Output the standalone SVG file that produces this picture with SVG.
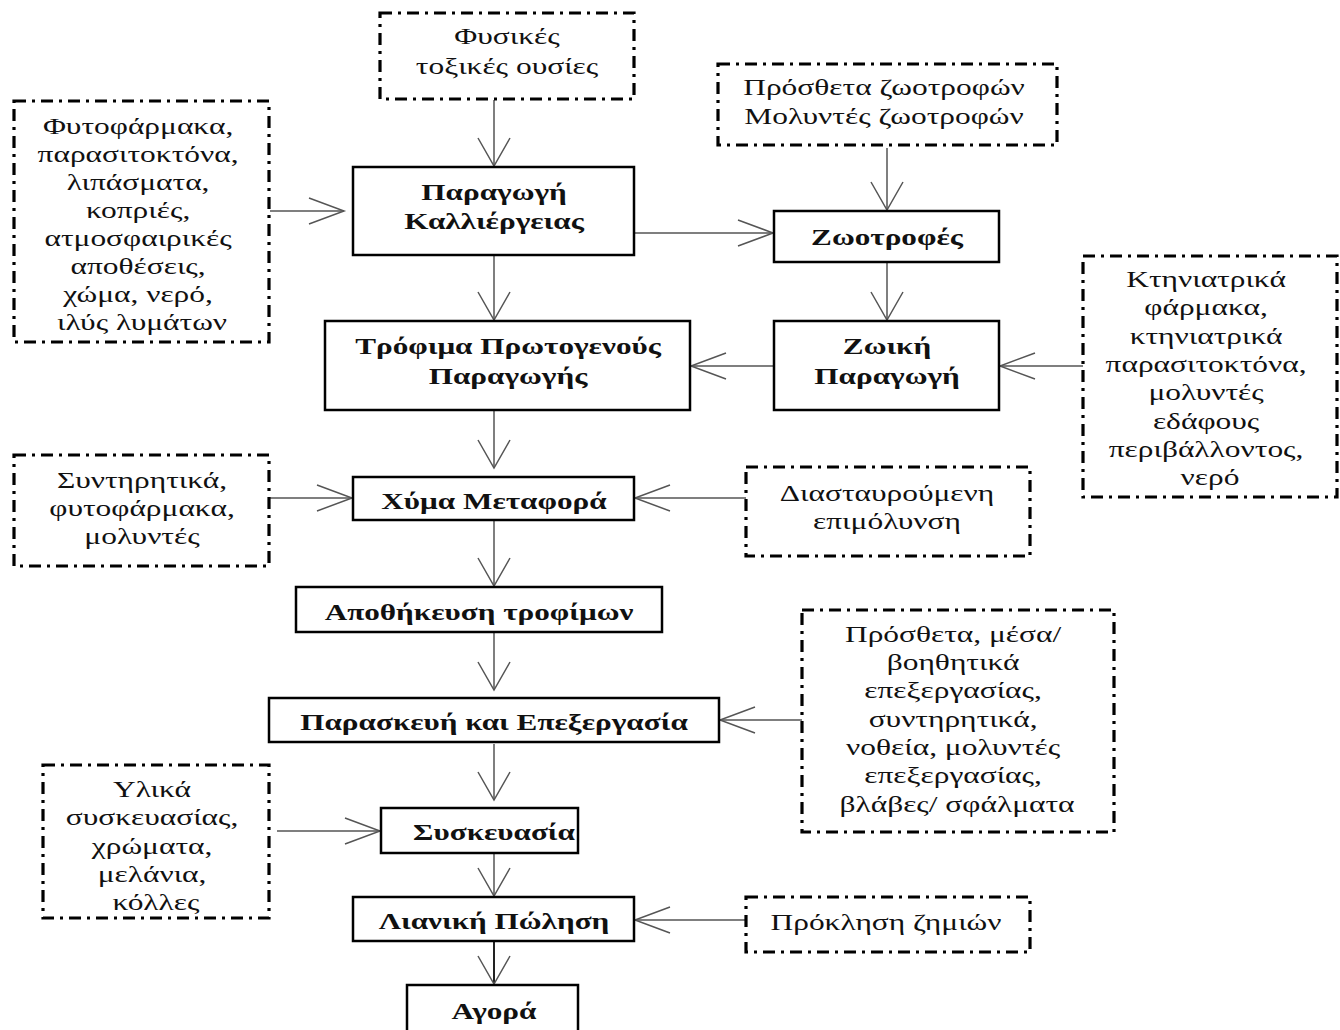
<svg xmlns="http://www.w3.org/2000/svg" width="1340" height="1030" viewBox="0 0 1340 1030">
  <style>
    .proc { fill: #fff; stroke: #000; stroke-width: 2.5; }
    .src { fill: #fff; stroke: #000; stroke-width: 3.2; stroke-dasharray: 12 6 3 6; }
    .t { font-family: "Liberation Serif", "Times New Roman", serif; font-size: 24px; fill: #111; text-anchor: middle; }
    .b { font-family: "Liberation Serif", "Times New Roman", serif; font-size: 24px; font-weight: bold; fill: #111; text-anchor: middle; }
    .c { fill: none; stroke: #555; stroke-width: 1.5; }
    .cv { marker-end: url(#av); }
    .ch { marker-end: url(#ah); }
  </style>
  <defs>
    <marker id="av" markerUnits="userSpaceOnUse" orient="auto" markerWidth="32" markerHeight="36" viewBox="-30 -18 32 36" refX="0" refY="0" overflow="visible">
      <path d="M-28,-16 L0,0 L-28,16" fill="none" stroke="#555" stroke-width="1.5"/>
    </marker>
    <marker id="ah" markerUnits="userSpaceOnUse" orient="auto" markerWidth="40" markerHeight="30" viewBox="-37 -15 40 30" refX="0" refY="0" overflow="visible">
      <path d="M-35,-13 L0,0 L-35,13" fill="none" stroke="#555" stroke-width="1.5"/>
    </marker>
  </defs>
  <rect width="1340" height="1030" fill="#fff"/>

  <!-- connectors -->
  <g id="connectors">
    <path class="c cv" d="M494,100 V166"/>
    <path class="c cv" d="M494,256 V320"/>
    <path class="c cv" d="M494,411 V468"/>
    <path class="c cv" d="M494,521 V586"/>
    <path class="c cv" d="M494,633 V690"/>
    <path class="c cv" d="M494,744 V800"/>
    <path class="c cv" d="M494,854 V896"/>
    <path class="c cv" d="M494,942 V984" style="stroke:#222;stroke-width:2"/>
    <path class="c cv" d="M887,148 V210"/>
    <path class="c cv" d="M887,263 V320"/>
    <path class="c ch" d="M270,211 H344"/>
    <path class="c ch" d="M635,233 H773"/>
    <path class="c ch" d="M773,366 H691"/>
    <path class="c ch" d="M1083,366 H1000"/>
    <path class="c ch" d="M270,498 H352"/>
    <path class="c ch" d="M746,498 H635"/>
    <path class="c ch" d="M802,720 H720"/>
    <path class="c ch" d="M277,831 H380"/>
    <path class="c ch" d="M746,920 H635"/>
  </g>

  <!-- dashed input boxes -->
  <g id="toxins">
    <rect class="src" x="380" y="13" width="254" height="86"/>
    <text class="t" transform="translate(507,0) scale(1.31,1)"><tspan x="0" y="44">Φυσικές</tspan><tspan x="0" y="74">τοξικές ουσίες</tspan></text>
  </g>
  <g id="crop-inputs">
    <rect class="src" x="14" y="101" width="255" height="241"/>
    <text class="t" transform="translate(142,0) scale(1.31,1)">
      <tspan x="0" y="134">Φυτοφάρμακα,</tspan>
      <tspan x="0" y="162">παρασιτοκτόνα,</tspan>
      <tspan x="0" y="190">λιπάσματα,</tspan>
      <tspan x="0" y="218">κοπριές,</tspan>
      <tspan x="0" y="246">ατμοσφαιρικές</tspan>
      <tspan x="0" y="274">αποθέσεις,</tspan>
      <tspan x="0" y="302">χώμα, νερό,</tspan>
      <tspan x="0" y="330">ιλύς λυμάτων</tspan>
    </text>
  </g>
  <g id="feed-additives">
    <rect class="src" x="718" y="64" width="339" height="81"/>
    <text class="t" transform="translate(884,0) scale(1.31,1)"><tspan x="0" y="95">Πρόσθετα ζωοτροφών</tspan><tspan x="0" y="124">Μολυντές ζωοτροφών</tspan></text>
  </g>
  <g id="vet-inputs">
    <rect class="src" x="1083" y="256" width="254" height="241"/>
    <text class="t" transform="translate(1210,0) scale(1.31,1)">
      <tspan x="0" y="287">Κτηνιατρικά</tspan>
      <tspan x="0" y="315">φάρμακα,</tspan>
      <tspan x="0" y="344">κτηνιατρικά</tspan>
      <tspan x="0" y="372">παρασιτοκτόνα,</tspan>
      <tspan x="0" y="400">μολυντές</tspan>
      <tspan x="0" y="429">εδάφους</tspan>
      <tspan x="0" y="457">περιβάλλοντος,</tspan>
      <tspan x="0" y="485">νερό</tspan>
    </text>
  </g>
  <g id="transport-inputs">
    <rect class="src" x="14" y="455" width="255" height="111"/>
    <text class="t" transform="translate(142,0) scale(1.31,1)"><tspan x="0" y="488">Συντηρητικά,</tspan><tspan x="0" y="516">φυτοφάρμακα,</tspan><tspan x="0" y="544">μολυντές</tspan></text>
  </g>
  <g id="cross-contamination">
    <rect class="src" x="746" y="467" width="284" height="89"/>
    <text class="t" transform="translate(887,0) scale(1.31,1)"><tspan x="0" y="501">Διασταυρούμενη</tspan><tspan x="0" y="529">επιμόλυνση</tspan></text>
  </g>
  <g id="processing-inputs">
    <rect class="src" x="802" y="610" width="312" height="222"/>
    <text class="t" transform="translate(957,0) scale(1.31,1)">
      <tspan x="0" y="642">Πρόσθετα, μέσα/</tspan>
      <tspan x="0" y="670">βοηθητικά</tspan>
      <tspan x="0" y="698">επεξεργασίας,</tspan>
      <tspan x="0" y="727">συντηρητικά,</tspan>
      <tspan x="0" y="755">νοθεία, μολυντές</tspan>
      <tspan x="0" y="783">επεξεργασίας,</tspan>
      <tspan x="0" y="812">βλάβες/ σφάλματα</tspan>
    </text>
  </g>
  <g id="packaging-inputs">
    <rect class="src" x="43" y="765" width="226" height="153"/>
    <text class="t" transform="translate(156,0) scale(1.31,1)">
      <tspan x="0" y="797">Υλικά</tspan>
      <tspan x="0" y="825">συσκευασίας,</tspan>
      <tspan x="0" y="854">χρώματα,</tspan>
      <tspan x="0" y="882">μελάνια,</tspan>
      <tspan x="0" y="910">κόλλες</tspan>
    </text>
  </g>
  <g id="damage">
    <rect class="src" x="746" y="897" width="284" height="55"/>
    <text class="t" transform="translate(886,0) scale(1.31,1)" x="0" y="930">Πρόκληση ζημιών</text>
  </g>

  <!-- process chain -->
  <g id="crop-production">
    <rect class="proc" x="353" y="167" width="281" height="88"/>
    <text class="b" transform="translate(494,0) scale(1.3,1)"><tspan x="0" y="200">Παραγωγή</tspan><tspan x="0" y="229">Καλλιέργειας</tspan></text>
  </g>
  <g id="feed">
    <rect class="proc" x="774" y="211" width="225" height="51"/>
    <text class="b" transform="translate(887,0) scale(1.3,1)" x="0" y="245">Ζωοτροφές</text>
  </g>
  <g id="primary-food">
    <rect class="proc" x="325" y="321" width="365" height="89"/>
    <text class="b" transform="translate(508,0) scale(1.3,1)"><tspan x="0" y="354">Τρόφιμα Πρωτογενούς</tspan><tspan x="0" y="384">Παραγωγής</tspan></text>
  </g>
  <g id="animal-production">
    <rect class="proc" x="774" y="321" width="225" height="89"/>
    <text class="b" transform="translate(887,0) scale(1.3,1)"><tspan x="0" y="354">Ζωική</tspan><tspan x="0" y="384">Παραγωγή</tspan></text>
  </g>
  <g id="bulk-transport">
    <rect class="proc" x="353" y="477" width="281" height="43"/>
    <text class="b" transform="translate(494,0) scale(1.3,1)" x="0" y="509">Χύμα Μεταφορά</text>
  </g>
  <g id="storage">
    <rect class="proc" x="296" y="587" width="366" height="45"/>
    <text class="b" transform="translate(479,0) scale(1.3,1)" x="0" y="620">Αποθήκευση τροφίμων</text>
  </g>
  <g id="processing">
    <rect class="proc" x="269" y="698" width="450" height="44"/>
    <text class="b" transform="translate(494,0) scale(1.3,1)" x="0" y="730">Παρασκευή και Επεξεργασία</text>
  </g>
  <g id="packaging">
    <rect class="proc" x="381" y="808" width="197" height="45"/>
    <text class="b" transform="translate(494,0) scale(1.3,1)" x="0" y="840">Συσκευασία</text>
  </g>
  <g id="retail">
    <rect class="proc" x="353" y="897" width="281" height="44"/>
    <text class="b" transform="translate(494,0) scale(1.3,1)" x="0" y="929">Λιανική Πώληση</text>
  </g>
  <g id="market">
    <rect class="proc" x="407" y="985" width="171" height="60"/>
    <text class="b" transform="translate(494,0) scale(1.3,1)" x="0" y="1019">Αγορά</text>
  </g>
</svg>
